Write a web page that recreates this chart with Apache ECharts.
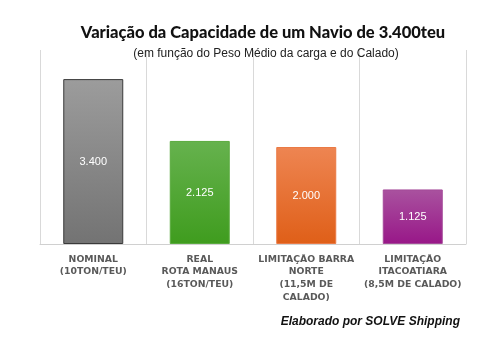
<!DOCTYPE html>
<html>
<head>
<meta charset="utf-8">
<script src="https://cdn.jsdelivr.net/npm/echarts@6/dist/echarts.min.js"></script>
<style>
  html, body { margin: 0; padding: 0; background: #ffffff; }
  #chart { width: 485px; height: 342px; }
</style>
</head>
<body>
<div id="chart"></div>
<script>
// Capacity of a 3,400 TEU vessel under each operating constraint
const categories = [
  'NOMINAL\n(10TON/TEU)',
  'REAL\nROTA MANAUS\n(16TON/TEU)',
  'LIMITAÇÃO BARRA\nNORTE\n(11,5M DE\nCALADO)',
  'LIMITAÇÃO\nITACOATIARA\n(8,5M DE CALADO)'
];
const capacityTeu = [3400, 2125, 2000, 1125];
const valueLabels = ['3.400', '2.125', '2.000', '1.125'];

// Vertical gradient per bar: [top, bottom, border]
const barPalette = [
  ['#9c9c9c', '#737373', '#3a3a3a'],
  ['#66b24e', '#3f9c1e', '#5aaa3e'],
  ['#ee8552', '#df5f18', '#ea7a45'],
  ['#a9529f', '#981788', '#a44a99']
];

function gradient(c) {
  return new echarts.graphic.LinearGradient(0, 0, 0, 1, [
    { offset: 0, color: c[0] },
    { offset: 1, color: c[1] }
  ]);
}

const chart = echarts.init(document.getElementById('chart'), null, { renderer: 'canvas' });

chart.setOption({
  backgroundColor: '#ffffff',
  animation: false,
  title: [
    {
      text: 'Variação da Capacidade de um Navio de 3.400teu',
      left: 258,
      top: 19,
      textAlign: 'center',
      textStyle: { fontFamily: 'Lato', fontWeight: 900, fontSize: 16.5, color: '#111111' }
    },
    {
      text: '(em função do Peso Médio da carga e do Calado)',
      left: 261,
      top: 43,
      textAlign: 'center',
      textStyle: { fontFamily: '"Liberation Sans Narrow", "Liberation Sans"', fontWeight: 'normal', fontSize: 12, color: '#222222' }
    },
    {
      text: 'Elaborado por SOLVE Shipping',
      right: 20,
      top: 311,
      textStyle: { fontFamily: '"Liberation Sans"', fontStyle: 'italic', fontWeight: 'bold', fontSize: 12, color: '#111111' }
    }
  ],
  grid: { left: 40, right: 19, top: 50, bottom: 98 },
  xAxis: {
    type: 'category',
    data: categories,
    boundaryGap: true,
    axisLine: { show: true, lineStyle: { color: '#d0d0d0', width: 1 } },
    axisTick: { show: false },
    splitLine: { show: true, lineStyle: { color: '#d9d9d9', width: 1 } },
    axisLabel: {
      interval: 0,
      margin: 9,
      lineHeight: 12.6,
      fontFamily: '"DejaVu Sans"',
      fontWeight: 'bold',
      fontSize: 9.3,
      color: '#595959'
    }
  },
  yAxis: {
    type: 'value',
    min: 0,
    max: 4000,
    show: false,
    splitLine: { show: false }
  },
  series: [{
    type: 'bar',
    barWidth: 60,
    data: capacityTeu.map((v, i) => ({
      value: v,
      itemStyle: {
        color: gradient(barPalette[i]),
        borderColor: barPalette[i][2],
        borderWidth: 1
      }
    })),
    label: {
      show: true,
      position: 'inside',
      formatter: p => valueLabels[p.dataIndex],
      fontFamily: '"Liberation Sans"',
      fontSize: 11,
      color: '#ffffff'
    }
  }]
});
</script>
</body>
</html>
